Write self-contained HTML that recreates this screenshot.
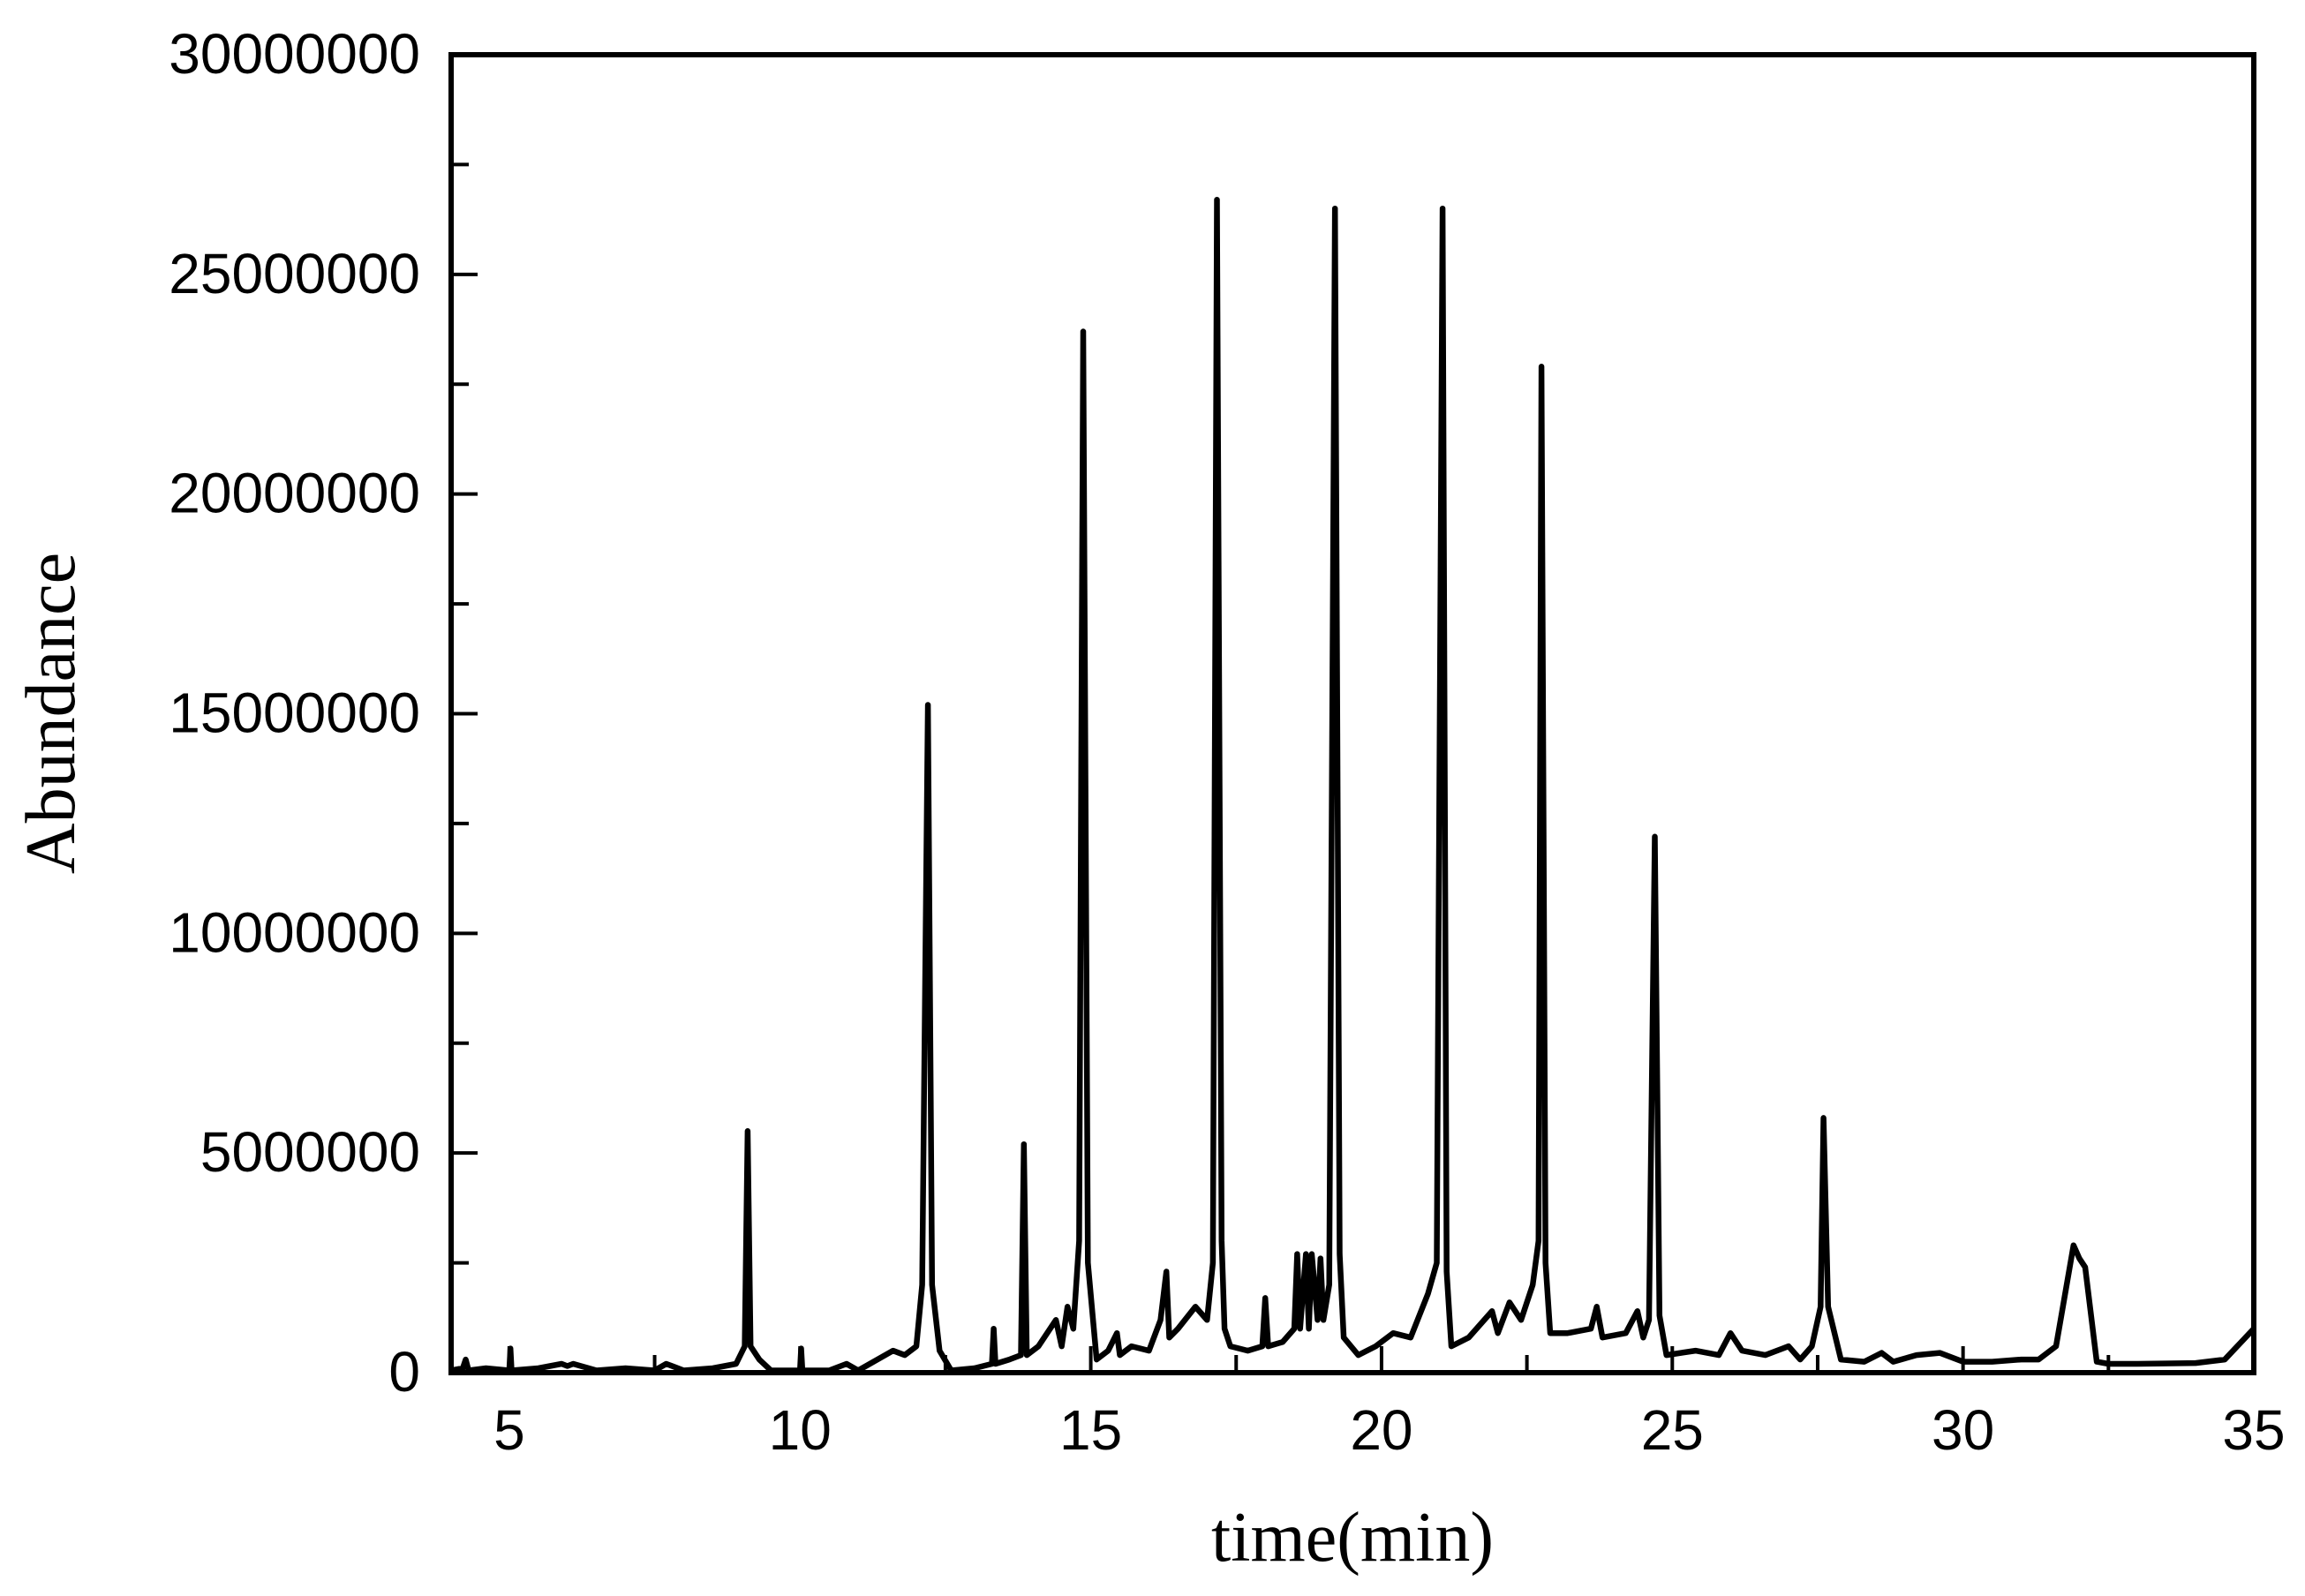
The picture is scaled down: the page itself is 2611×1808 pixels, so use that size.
<!DOCTYPE html>
<html><head><meta charset="utf-8"><style>
html,body{margin:0;padding:0;background:#fff;}
svg{display:block;}
</style></head><body>
<svg id="chart" width="2611" height="1808" viewBox="0 0 2611 1808" xmlns="http://www.w3.org/2000/svg">
<rect width="2611" height="1808" fill="#fff"/>
<g id="ticks"></g>
<path id="trace" fill="none" stroke="#000" stroke-width="6.5" stroke-linejoin="round"/>
<rect x="511" y="62" width="2042" height="1493" fill="none" stroke="#000" stroke-width="6"/>
<text x="1532" y="1768" font-family="Liberation Serif, serif" font-size="80" text-anchor="middle">time(min)</text>
<text transform="translate(84,808) rotate(-90)" font-family="Liberation Serif, serif" font-size="80" text-anchor="middle">Abundance</text>
</svg>
<script>
const times = [4.0,4.2,4.25,4.3,4.6,5.0,5.02,5.04,5.5,5.9,6.0,6.1,6.5,7.0,7.5,7.7,8.0,8.5,8.9,9.05,9.1,9.15,9.3,9.5,10.0,10.02,10.04,10.5,10.8,11.0,11.6,11.8,12.0,12.1,12.2,12.27,12.4,12.6,13.0,13.3,13.33,13.36,13.6,13.8,13.85,13.9,14.1,14.4,14.5,14.6,14.7,14.8,14.87,14.95,15.1,15.3,15.45,15.5,15.7,16.0,16.2,16.3,16.35,16.5,16.8,17.0,17.1,17.17,17.25,17.3,17.4,17.7,17.95,18.0,18.05,18.3,18.5,18.55,18.6,18.7,18.75,18.8,18.9,18.95,19.0,19.1,19.2,19.28,19.35,19.6,19.9,20.2,20.5,20.8,20.95,21.05,21.12,21.2,21.5,21.9,22.0,22.2,22.4,22.6,22.7,22.75,22.82,22.9,23.2,23.6,23.7,23.8,24.2,24.4,24.5,24.6,24.7,24.78,24.9,25.4,25.8,26.0,26.2,26.6,27.0,27.2,27.4,27.55,27.6,27.68,27.9,28.3,28.6,28.8,29.2,29.6,30.0,30.5,31.0,31.3,31.6,31.9,32.0,32.1,32.3,32.5,33.0,34.0,34.5,35.0];
const abundanceM = [0.05,0.1,0.3,0.05,0.1,0.05,0.55,0.05,0.1,0.2,0.15,0.2,0.05,0.1,0.05,0.2,0.05,0.1,0.2,0.6,5.5,0.6,0.3,0.05,0.05,0.55,0.05,0.05,0.2,0.05,0.5,0.4,0.6,2.0,15.2,2.0,0.5,0.05,0.1,0.2,1.0,0.2,0.3,0.4,5.2,0.4,0.6,1.2,0.6,1.5,1.0,3.0,23.7,2.5,0.3,0.5,0.9,0.4,0.6,0.5,1.2,2.3,0.8,1.0,1.5,1.2,2.5,26.7,3.0,1.0,0.6,0.5,0.6,1.7,0.6,0.7,1.0,2.7,1.0,2.7,1.0,2.7,1.2,2.6,1.2,2.0,26.5,2.7,0.8,0.4,0.6,0.9,0.8,1.8,2.5,26.5,2.3,0.6,0.8,1.4,0.9,1.6,1.2,2.0,3.0,22.9,2.5,0.9,0.9,1.0,1.5,0.8,0.9,1.4,0.8,1.2,12.2,1.3,0.4,0.5,0.4,0.9,0.5,0.4,0.6,0.3,0.6,1.5,5.8,1.5,0.3,0.25,0.45,0.25,0.4,0.45,0.25,0.25,0.3,0.3,0.6,2.9,2.6,2.4,0.25,0.2,0.2,0.22,0.3,1.0];
const xTickLabels = ["5","10","15","20","25","30","35"];
const yTickLabels = ["0","5000000","10000000","15000000","20000000","25000000","30000000"];

const L=511,R=2553,T=62,B=1555, X0=4, X1=35, YMAX=30;
function xs(t){return L+(t-X0)/(X1-X0)*(R-L);}
function ys(v){return B-v/YMAX*(B-T);}
const NS="http://www.w3.org/2000/svg";
let d="";
for(let i=0;i<times.length;i++){d+=(i?"L":"M")+xs(times[i]).toFixed(1)+","+ys(abundanceM[i]).toFixed(1);}
document.getElementById('trace').setAttribute('d',d);
const g=document.getElementById('ticks');
function line(x1,y1,x2,y2,name){const l=document.createElementNS(NS,'line');l.setAttribute('x1',x1);l.setAttribute('y1',y1);l.setAttribute('x2',x2);l.setAttribute('y2',y2);l.setAttribute('stroke','#000');l.setAttribute('stroke-width','4');


g.appendChild(l);}
function txt(x,y,s,anchor,name){const t=document.createElementNS(NS,'text');t.setAttribute('x',x);t.setAttribute('y',y);t.setAttribute('font-family','Liberation Sans, Arial, sans-serif');t.setAttribute('font-size','64');t.setAttribute('text-anchor',anchor);t.textContent=s;


g.appendChild(t);}
for(let v=5;v<=35;v+=2.5){const x=xs(v);const major=(v%5===0);line(x,B,x,B-(major?30:20),'x-tick');}
xTickLabels.forEach(s=>{txt(xs(+s),1642,s,'middle','x-tick-label');});
for(let v=0;v<=30;v+=2.5){const y=ys(v);const major=(v%5===0);line(L,y,L+(major?30:20),y,'y-tick');}
yTickLabels.forEach(s=>{txt(476,ys(+s/1e6)+21,s,'end','y-tick-label');});
</script>
</body></html>
